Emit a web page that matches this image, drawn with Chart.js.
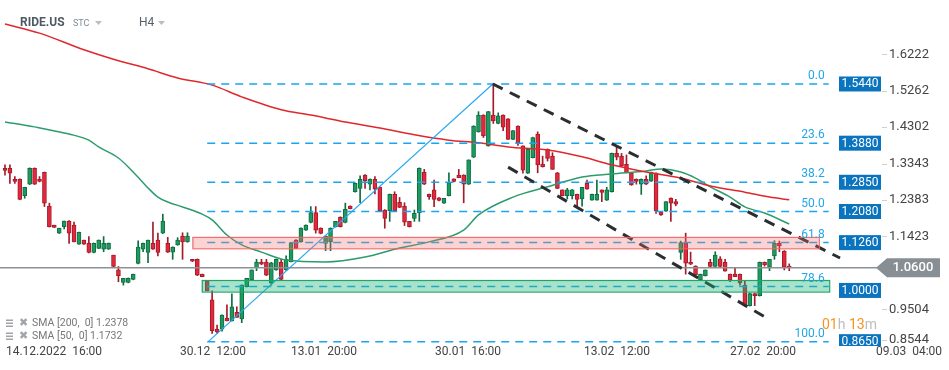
<!DOCTYPE html>
<html>
<head>
<meta charset="utf-8">
<script src="https://cdn.jsdelivr.net/npm/chart.js@4.4.1/dist/chart.umd.min.js"></script>
<style>
  html, body { margin: 0; padding: 0; background: #fff; }
  #wrap { position: relative; width: 949px; height: 370px; }
</style>
</head>
<body>
<div id="wrap"><canvas id="chart"></canvas></div>
<script>
// RIDE.US H4 candles
const opens = [1.322,1.322,1.293,1.293,1.250,1.280,1.322,1.293,1.311,1.222,1.172,1.151,1.168,1.183,1.172,1.122,1.133,1.124,1.100,1.111,
  1.109,1.109,1.093,1.054,1.021,1.021,1.029,1.071,1.109,1.100,1.124,1.133,1.151,1.124,1.101,1.120,1.143,1.128,1.082,1.082,
  1.043,1.025,0.975,0.898,0.898,0.927,0.920,0.942,0.925,1.010,1.028,1.060,1.075,1.075,1.019,1.054,1.075,1.054,1.076,1.133,
  1.128,1.159,1.179,1.205,1.164,1.124,1.128,1.168,1.193,1.179,1.222,1.260,1.269,1.304,1.280,1.293,1.272,1.212,1.210,1.253,
  1.232,1.222,1.182,1.190,1.205,1.311,1.253,1.265,1.244,1.230,1.250,1.294,1.304,1.304,1.280,1.351,1.418,1.462,1.381,1.462,
  1.440,1.462,1.452,1.398,1.433,1.381,1.309,1.350,1.412,1.333,1.372,1.354,1.310,1.265,1.250,1.250,1.253,1.241,1.282,1.238,
  1.238,1.265,1.238,1.260,1.361,1.354,1.332,1.310,1.293,1.280,1.293,1.288,1.309,1.206,1.209,1.243,1.234,1.100,1.124,1.074,
  1.064,1.028,1.039,1.074,1.063,1.083,1.074,1.043,1.043,1.043,1.014,0.960,0.992,0.986,1.074,1.061,1.091,1.124,1.104,1.064];
const highs = [1.331,1.331,1.300,1.294,1.272,1.323,1.323,1.300,1.312,1.230,1.172,1.164,1.183,1.184,1.180,1.154,1.133,1.142,1.125,1.133,
  1.142,1.125,1.093,1.063,1.032,1.033,1.043,1.131,1.125,1.133,1.180,1.151,1.201,1.140,1.115,1.139,1.152,1.152,1.082,1.083,
  1.043,1.025,0.999,0.909,0.936,0.962,0.991,0.957,1.015,1.032,1.054,1.082,1.082,1.082,1.074,1.083,1.082,1.091,1.127,1.134,
  1.165,1.173,1.221,1.221,1.165,1.144,1.165,1.182,1.194,1.230,1.223,1.283,1.302,1.305,1.294,1.300,1.273,1.213,1.254,1.260,
  1.245,1.231,1.182,1.212,1.323,1.319,1.254,1.291,1.245,1.243,1.310,1.294,1.319,1.305,1.344,1.434,1.471,1.463,1.472,1.544,
  1.468,1.463,1.453,1.421,1.434,1.381,1.372,1.404,1.418,1.354,1.373,1.363,1.311,1.265,1.269,1.266,1.254,1.272,1.291,1.254,
  1.291,1.265,1.272,1.362,1.378,1.361,1.357,1.311,1.294,1.294,1.302,1.312,1.310,1.206,1.234,1.244,1.240,1.130,1.151,1.101,
  1.065,1.043,1.054,1.082,1.102,1.089,1.082,1.043,1.060,1.043,1.025,0.993,0.993,1.075,1.075,1.082,1.131,1.130,1.105,1.070];
const lows = [1.304,1.282,1.282,1.239,1.243,1.279,1.279,1.286,1.221,1.167,1.166,1.150,1.162,1.124,1.128,1.121,1.121,1.099,1.099,1.110,
  1.102,1.108,1.062,1.023,1.014,1.020,1.028,1.070,1.102,1.073,1.108,1.091,1.150,1.100,1.082,1.119,1.082,1.127,1.076,1.039,
  1.036,0.999,0.887,0.887,0.893,0.920,0.919,0.929,0.915,1.009,1.027,1.052,1.068,1.039,1.014,1.053,1.028,1.053,1.075,1.110,
  1.127,1.158,1.178,1.151,1.149,1.105,1.105,1.167,1.167,1.178,1.215,1.259,1.231,1.269,1.265,1.254,1.209,1.164,1.182,1.209,
  1.218,1.171,1.167,1.182,1.182,1.279,1.240,1.221,1.236,1.229,1.249,1.286,1.297,1.231,1.279,1.350,1.417,1.403,1.380,1.440,
  1.439,1.421,1.398,1.397,1.382,1.309,1.308,1.349,1.310,1.325,1.341,1.319,1.268,1.249,1.241,1.241,1.222,1.222,1.267,1.238,
  1.238,1.234,1.237,1.259,1.344,1.327,1.310,1.277,1.280,1.253,1.279,1.287,1.203,1.198,1.208,1.182,1.223,1.082,1.043,1.068,
  1.040,1.027,1.038,1.062,1.062,1.062,1.051,1.023,1.036,1.014,0.958,0.959,0.960,0.985,1.064,1.052,1.082,1.102,1.054,1.052];
const closes = [1.316,1.309,1.287,1.240,1.272,1.322,1.280,1.287,1.230,1.168,1.166,1.164,1.183,1.151,1.128,1.153,1.122,1.100,1.124,1.133,
  1.124,1.124,1.063,1.039,1.032,1.032,1.043,1.114,1.124,1.133,1.109,1.100,1.183,1.101,1.114,1.133,1.128,1.143,1.077,1.040,
  1.036,0.999,0.894,0.891,0.935,0.920,0.957,0.929,1.014,1.032,1.054,1.075,1.069,1.040,1.073,1.082,1.029,1.082,1.126,1.111,
  1.164,1.172,1.205,1.159,1.150,1.143,1.164,1.182,1.168,1.214,1.215,1.282,1.293,1.289,1.293,1.267,1.210,1.190,1.253,1.210,
  1.219,1.180,1.168,1.203,1.322,1.280,1.247,1.240,1.237,1.243,1.284,1.287,1.297,1.280,1.344,1.433,1.462,1.407,1.471,1.447,
  1.460,1.430,1.398,1.421,1.388,1.317,1.372,1.403,1.331,1.326,1.348,1.319,1.269,1.250,1.265,1.265,1.240,1.272,1.267,1.253,
  1.253,1.258,1.265,1.361,1.351,1.328,1.310,1.278,1.287,1.293,1.280,1.311,1.209,1.199,1.234,1.230,1.227,1.126,1.072,1.069,
  1.041,1.043,1.054,1.063,1.093,1.063,1.051,1.028,1.036,1.020,0.959,0.992,0.986,1.074,1.067,1.082,1.124,1.117,1.061,1.060];

// moving averages, sampled along the curve
const sma200Idx = [0, 7, 16, 22, 29, 35, 42, 48, 56, 62, 69, 76, 83, 90, 96, 102, 110, 117, 123, 130, 137, 143, 150, 155, 159];
const sma200Val = [1.702, 1.678, 1.634, 1.609, 1.584, 1.560, 1.541, 1.510, 1.476, 1.462, 1.444, 1.428, 1.410, 1.396, 1.389, 1.378, 1.370, 1.352, 1.331, 1.312, 1.296, 1.275, 1.259, 1.246, 1.239];
const sma50Idx = [0, 6, 13, 17, 19, 23, 26, 29, 31, 33, 36, 40, 42, 45, 48, 52, 57, 65, 73, 80, 86, 93, 96, 103, 110, 117, 123, 130, 133, 137, 140, 143, 147, 150, 154, 159];
const sma50Val = [1.444, 1.431, 1.412, 1.396, 1.378, 1.349, 1.312, 1.270, 1.246, 1.233, 1.220, 1.201, 1.186, 1.146, 1.120, 1.101, 1.080, 1.075, 1.088, 1.112, 1.128, 1.159, 1.199, 1.246, 1.273, 1.299, 1.307, 1.315, 1.320, 1.312, 1.296, 1.273, 1.246, 1.220, 1.204, 1.175];

// fibonacci retracement
const fibLabels = ["0.0", "23.6", "38.2", "50.0", "61.8", "78.6", "100.0"];
const fibPrices = [1.544, 1.388, 1.285, 1.208, 1.126, 1.0103, 0.865];
const tagPrices = [1.544, 1.388, 1.285, 1.208, 1.126, 1.000, 0.865];
const fibFrom = 41, fibTo = 167;
const fibAnchorIdx = [41.2, 98.9];
const fibAnchorVal = [0.865, 1.544];

// channel lines
const upperIdx = [98.9, 169.3], upperVal = [1.544, 1.0855];
const lowerIdx = [102.0, 154.1], lowerVal = [1.325, 0.930];

// zones
const zoneFrom = [38, 39.9], zoneTo = [165, 167.1];
const zoneLow = [1.111, 0.997], zoneHigh = [1.141, 1.0275];

const lastPrice = 1.0600;
const yTicks = [1.6222, 1.5262, 1.4302, 1.3343, 1.2383, 1.1423, 0.9504, 0.8544];
const xTickPos = [0.2, 35.5, 58, 87.2, 117.4, 147, 176.6];
const xTickLabels = ["14.12.2022  16:00", "30.12  12:00", "13.01  20:00", "30.01  16:00", "13.02  12:00", "27.02  20:00", "09.03  04:00"];
const legendRows = ["SMA [200,  0] 1.2378", "SMA [50,  0] 1.1732"];

const UP = "#1c9a5f", UP_EDGE = "#0e6e42", DOWN = "#e2283c", DOWN_EDGE = "#a51b2a";
const isUp = opens.map((o, i) => closes[i] >= o);

const pts = (xs, ys) => xs.map((v, i) => ({ x: v, y: ys[i] }));
const flat = (p) => [{ x: fibFrom, y: p }, { x: fibTo, y: p }];

const datasets = [
    {
        label: "wicks", type: "bar", order: 5, grouped: false,
        data: opens.map((_, i) => ({ x: i, y: [lows[i], highs[i]] })),
        backgroundColor: isUp.map(u => u ? UP_EDGE : DOWN_EDGE),
        barThickness: 1, borderWidth: 0,
    },
    {
        label: "bodies", type: "bar", order: 4, grouped: false,
        data: opens.map((o, i) => ({ x: i, y: [o, closes[i]] })),
        backgroundColor: isUp.map(u => u ? UP : DOWN),
        borderColor: isUp.map(u => u ? UP_EDGE : DOWN_EDGE),
        borderWidth: 1, borderSkipped: false, barThickness: 4,
    },
    { type: "line", order: 3, data: [{ x: -2, y: lastPrice }, { x: 180, y: lastPrice }], borderColor: "#8b9196", borderWidth: 1.5, pointRadius: 0 },
    { type: "line", order: 2, data: pts(sma200Idx, sma200Val), borderColor: "#e0282c", borderWidth: 1.5, pointRadius: 0, cubicInterpolationMode: "monotone" },
    { type: "line", order: 2, data: pts(sma50Idx, sma50Val), borderColor: "#2d9c6c", borderWidth: 1.5, pointRadius: 0, cubicInterpolationMode: "monotone" },
    ...fibPrices.map(p => ({ type: "line", order: 1, data: flat(p), borderColor: "#1aa6ee", borderWidth: 1.5, borderDash: [8, 6], pointRadius: 0 })),
    { type: "line", order: 1, data: pts(fibAnchorIdx, fibAnchorVal), borderColor: "#2aa8f0", borderWidth: 1.2, pointRadius: 0 },
    { type: "line", order: 0, data: pts(upperIdx, upperVal), borderColor: "#2b2e31", borderWidth: 3, borderDash: [11, 8], pointRadius: 0 },
    { type: "line", order: 0, data: pts(lowerIdx, lowerVal), borderColor: "#2b2e31", borderWidth: 3, borderDash: [11, 8], pointRadius: 0 },
];

const overlay = {
    id: "overlay",
    afterDatasetsDraw(chart) {
        const { ctx, chartArea: a, scales: { x, y } } = chart;
        ctx.save();

        // zones on top of candles
        const zFill = ["rgba(246,110,110,0.30)", "rgba(30,178,118,0.38)"];
        const zEdge = ["rgba(238,100,100,0.9)", "#1fa46c"];
        zoneFrom.forEach((f, i) => {
            const x0 = x.getPixelForValue(f), x1 = x.getPixelForValue(zoneTo[i]);
            const y0 = y.getPixelForValue(zoneHigh[i]), y1 = y.getPixelForValue(zoneLow[i]);
            ctx.fillStyle = zFill[i];
            ctx.fillRect(x0, y0, x1 - x0, y1 - y0);
            ctx.strokeStyle = zEdge[i];
            ctx.lineWidth = 1.2;
            ctx.strokeRect(x0 + 0.5, y0 + 0.5, x1 - x0, y1 - y0);
        });

        // fib level labels
        ctx.font = "12px Roboto";
        ctx.fillStyle = "#23a6e8";
        ctx.textAlign = "right";
        ctx.textBaseline = "alphabetic";
        fibLabels.forEach((t, i) => {
            ctx.fillText(t, x.getPixelForValue(fibTo) - 4, y.getPixelForValue(fibPrices[i]) - 5);
        });

        // price tags
        ctx.save();
        ctx.beginPath();
        ctx.rect(0, 0, 949, a.bottom);
        ctx.clip();
        ctx.textAlign = "center";
        ctx.textBaseline = "middle";
        tagPrices.forEach(p => {
            const py = y.getPixelForValue(p);
            ctx.fillStyle = "#0b74bf";
            ctx.fillRect(839, py - 7.5, 42, 15);
            ctx.fillStyle = "#ffffff";
            ctx.font = "12px Roboto";
            ctx.fillText(p.toFixed(4), 860, py + 0.5);
        });
        ctx.restore();

        // y axis
        ctx.font = "13px Roboto";
        ctx.textAlign = "left";
        ctx.textBaseline = "middle";
        yTicks.forEach(v => {
            const py = Math.min(y.getPixelForValue(v), a.bottom - 6);
            ctx.strokeStyle = "#d0d0d0";
            ctx.lineWidth = 1;
            ctx.beginPath();
            ctx.moveTo(882, Math.round(py) + 0.5);
            ctx.lineTo(887, Math.round(py) + 0.5);
            ctx.stroke();
            ctx.fillStyle = "#444";
            ctx.fillText(v.toFixed(4), 889, py);
        });

        // last price label
        const ly = y.getPixelForValue(lastPrice);
        ctx.fillStyle = "#878e94";
        ctx.beginPath();
        ctx.moveTo(876, ly);
        ctx.lineTo(887, ly - 9.5);
        ctx.lineTo(940, ly - 9.5);
        ctx.lineTo(940, ly + 9.5);
        ctx.lineTo(887, ly + 9.5);
        ctx.closePath();
        ctx.fill();
        ctx.fillStyle = "#fff";
        ctx.font = "500 13px Roboto";
        ctx.textAlign = "center";
        ctx.fillText(lastPrice.toFixed(4), 913, ly + 0.5);

        // x axis labels
        ctx.font = "12px Roboto";
        ctx.fillStyle = "#444";
        ctx.textAlign = "left";
        xTickPos.forEach((v, i) => {
            ctx.fillText(xTickLabels[i], x.getPixelForValue(v), 352);
        });

        // title
        ctx.textBaseline = "middle";
        ctx.font = "bold 12px Roboto";
        ctx.fillStyle = "#4f5a63";
        ctx.fillText("RIDE.US", 20, 23);
        ctx.font = "9px Roboto";
        ctx.fillStyle = "#7d8c98";
        ctx.fillText("STC", 73, 24);
        ctx.font = "12px Roboto";
        ctx.fillStyle = "#55606a";
        ctx.fillText("H4", 139, 23);
        ctx.fillStyle = "#b9bec4";
        [[95, 21], [158, 21]].forEach(([tx, ty]) => {
            ctx.beginPath();
            ctx.moveTo(tx, ty);
            ctx.lineTo(tx + 7, ty);
            ctx.lineTo(tx + 3.5, ty + 4);
            ctx.closePath();
            ctx.fill();
        });

        // legend
        legendRows.forEach((t, i) => {
            const ry = 323.5 + i * 13;
            ctx.fillStyle = "#a0a4a8";
            ctx.fillRect(6, ry - 4, 7, 1.5);
            ctx.fillRect(6, ry - 1, 7, 1.5);
            ctx.fillRect(6, ry + 2, 7, 1.5);
            ctx.font = "bold 11px 'DejaVu Sans'";
            ctx.fillText("\u2716", 19, ry);
            ctx.font = "10.5px Roboto";
            ctx.fillStyle = "#777";
            ctx.fillText(t, 32, ry);
        });

        // countdown
        ctx.font = "14px Roboto";
        let tx = 822;
        [["01", "#f5941e"], ["h ", "#bdbdbd"], ["13", "#f5941e"], ["m", "#bdbdbd"]].forEach(([s, c]) => {
            ctx.fillStyle = c;
            ctx.fillText(s, tx, 325);
            tx += ctx.measureText(s).width;
        });

        ctx.restore();
    }
};

new Chart(document.getElementById("chart"), {
    type: "bar",
    data: { datasets },
    options: {
        responsive: true,
        maintainAspectRatio: false,
        animation: false,
        layout: { padding: { left: 0, top: 0, right: 69, bottom: 24 } },
        plugins: { legend: { display: false }, tooltip: { enabled: false } },
        scales: {
            x: { type: "linear", min: -1.01, max: 177.4, offset: false, display: false },
            y: { type: "linear", min: 0.8536, max: 1.7653, display: false },
        },
    },
    plugins: [overlay],
});
</script>
</body>
</html>
